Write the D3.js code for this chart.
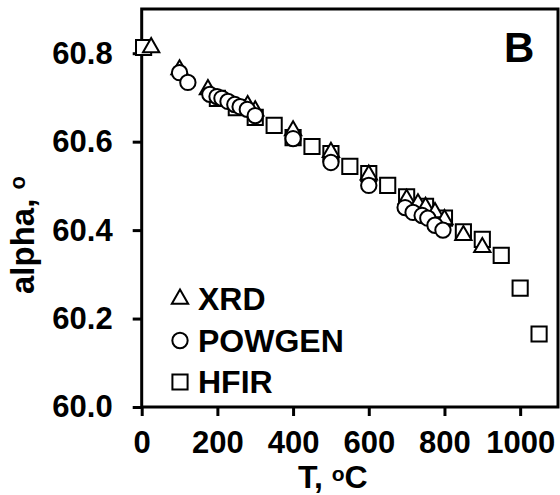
<!DOCTYPE html>
<html>
<head>
<meta charset="utf-8">
<title>alpha vs T</title>
<script src="https://d3js.org/d3.v7.min.js"></script>
<style>
  body { margin: 0; background: #fff; }
  text { font-family: "Liberation Sans", Arial, sans-serif; font-weight: bold; fill: #000; }
</style>
</head>
<body>
<svg width="560" height="495"></svg>
<script>
// data: [T (°C), alpha (°)]
const xrd = [[25,60.813],[100,60.763],[175,60.718],[280,60.682],[300,60.670],[400,60.625],
  [500,60.576],[600,60.525],[700,60.470],[730,60.460],[750,60.452],[775,60.440],[800,60.424],
  [850,60.388],[900,60.361]]
const powgen = [[100,60.756],[122,60.734],[180,60.707],[199,60.702],[212,60.698],[228,60.691],
  [246,60.684],[260,60.679],[279,60.673],[300,60.659],[400,60.607],[500,60.553],[600,60.501],
  [696,60.451],[717,60.440],[741,60.433],[756,60.427],[775,60.411],[796,60.400]]
const hfir = [[5,60.813],[200,60.698],[250,60.677],[300,60.655],[350,60.637],[400,60.609],
  [450,60.589],[500,60.573],[550,60.544],[600,60.528],[650,60.501],[700,60.475],[750,60.454],
  [800,60.427],[850,60.396],[900,60.379],[950,60.343],[1000,60.269],[1050,60.165]]
const xTicks = [0, 200, 400, 600, 800, 1000]
const yTicks = [60.0, 60.2, 60.4, 60.6, 60.8]
const seriesNames = ["XRD", "POWGEN", "HFIR"]

const svg = d3.select("svg")
const margin = { top: 9, left: 141.7, right: 2, bottom: 88 }
const width = +svg.attr("width") - margin.left - margin.right
const height = +svg.attr("height") - margin.top - margin.bottom

const x = d3.scaleLinear().domain([0, 1100]).range([0, width])
const y = d3.scaleLinear().domain([60, 60.9]).range([height, 0])

const g = svg.append("g").attr("transform", `translate(${margin.left},${margin.top})`)

const xAxis = d3.axisBottom(x).tickValues(xTicks).tickSize(9).tickPadding(15).tickFormat(d3.format("d"))
const yAxis = d3.axisLeft(y).tickValues(yTicks).tickSize(9).tickPadding(20).tickFormat(d3.format(".1f"))

const gx = g.append("g").attr("transform", `translate(0,${height})`).call(xAxis)
const gy = g.append("g").call(yAxis)
for (const ax of [gx, gy]) {
  ax.select(".domain").remove()
  ax.selectAll("line").attr("stroke", "#000").attr("stroke-width", 3)
  ax.selectAll("text").style("font-size", "31px").attr("fill", "#000")
}

// plot frame
g.append("rect").attr("width", width).attr("height", height)
  .attr("fill", "none").attr("stroke", "#000").attr("stroke-width", 3)

const shapes = { XRD: d3.symbolTriangle, POWGEN: d3.symbolCircle, HFIR: d3.symbolSquare }
const sizes = { XRD: 115, POWGEN: 185, HFIR: 230 }
const sym = name => d3.symbol().type(shapes[name]).size(sizes[name])()

const drawSeries = (data, name) => {
  g.append("g").selectAll("path")
    .data(data)
    .enter()
    .append("path")
    .attr("d", sym(name))
    .attr("transform", d => `translate(${x(d[0])},${y(d[1])})`)
    .attr("fill", "#fff")
    .attr("stroke", "#000")
    .attr("stroke-width", 2)
}
// squares underneath, circles on top
drawSeries(hfir, "HFIR")
drawSeries(xrd, "XRD")
drawSeries(powgen, "POWGEN")

// legend
const legend = svg.append("g")
seriesNames.forEach((name, i) => {
  const cy = 299 + i * 41.5
  legend.append("path").attr("d", sym(name))
    .attr("transform", `translate(180,${cy})`)
    .attr("fill", "#fff").attr("stroke", "#000").attr("stroke-width", 2)
  legend.append("text").attr("x", 198).attr("y", cy + 11)
    .style("font-size", "32px").text(name)
})

// panel letter
svg.append("text").attr("x", 504).attr("y", 62).style("font-size", "42px").text("B")

// axis titles
const xt = svg.append("text").attr("x", 298).attr("y", 488).style("font-size", "32px")
xt.append("tspan").text("T, ")
xt.append("tspan").attr("dy", -7).style("font-size", "21px").text("o")
xt.append("tspan").attr("dy", 7).text("C")

const yt = svg.append("text").attr("transform", "translate(34,294) rotate(-90)").style("font-size", "33px")
yt.append("tspan").text("alpha, ")
yt.append("tspan").attr("dy", -9).style("font-size", "22px").text("o")
</script>
</body>
</html>
